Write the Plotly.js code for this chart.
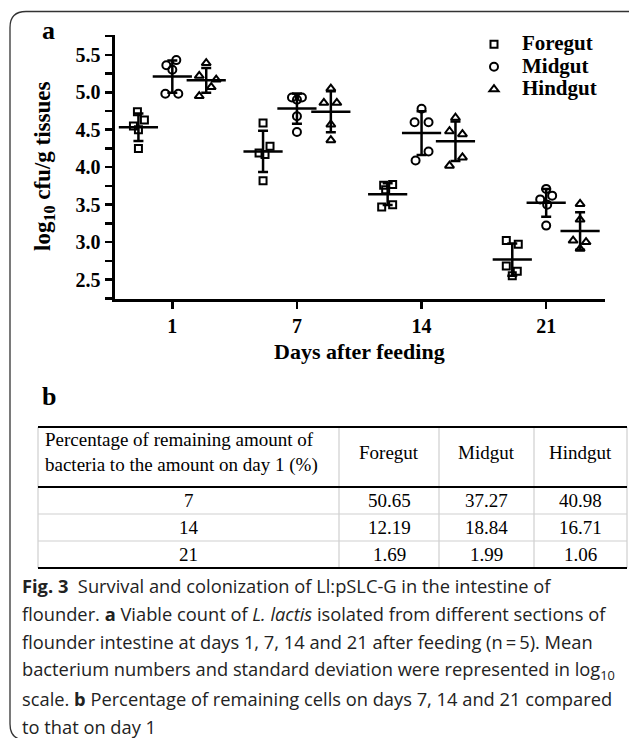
<!DOCTYPE html>
<html><head><meta charset="utf-8">
<script src="https://cdn.plot.ly/plotly-3.0.1.min.js"></script>
<style>html,body{margin:0;padding:0;background:#fff;}#chart{width:629px;height:738px;}</style>
</head><body><div id="chart"></div>
<script>
// ---------- data ----------
const days = ['1', '7', '14', '21'];
const tissues = ['Foregut', 'Midgut', 'Hindgut'];
// log10 cfu/g tissues, 5 fish per day (rows: days 1, 7, 14, 21)
const foregut = [
  [4.74, 4.63, 4.55, 4.50, 4.25],
  [4.59, 4.28, 4.19, 4.17, 3.82],
  [3.77, 3.76, 3.70, 3.50, 3.47],
  [3.02, 2.97, 2.68, 2.61, 2.55]
];
const midgut = [
  [5.43, 5.36, 5.30, 4.98, 4.98],
  [4.93, 4.93, 4.90, 4.68, 4.47],
  [4.78, 4.60, 4.60, 4.21, 4.09],
  [3.71, 3.62, 3.57, 3.50, 3.22]
];
const hindgut = [
  [5.39, 5.22, 5.17, 5.07, 4.95],
  [5.05, 4.86, 4.86, 4.57, 4.36],
  [4.66, 4.48, 4.44, 4.13, 4.02],
  [3.51, 3.30, 3.02, 3.00, 2.91]
];
// table b
const tableHeader = ['Percentage of remaining amount of<br>bacteria to the amount on day 1 (%)', 'Foregut', 'Midgut', 'Hindgut'];
const tableDays = ['7', '14', '21'];
const pctForegut = [50.65, 12.19, 1.69];
const pctMidgut = [37.27, 18.84, 1.99];
const pctHindgut = [40.98, 16.71, 1.06];

// ---------- style / layout helpers ----------
const W = 629, H = 738;
const px = v => v / W;
const py = v => 1 - v / H;
const SERIF = 'Liberation Serif, Times New Roman, serif';
const SANS = 'Open Sans, Noto Sans, sans-serif';
const groupPx = 125;
const tissueOffset = [-0.272, 0, 0.272];
const symbols = ['square-open', 'circle-open', 'triangle-up-open'];
const markerSize = [7, 8, 8];
// horizontal scatter (px) of the individual points, as in the figure
const jitter = [
  [[-1, 6, -5, 0, 0], [0, 7, -4, 2, 0], [5, -4, -2, 5, -6], [-6, 6, -6, 5, 0]],
  [[4, -6, 0, -7, 6], [-5, 5, 0, 0, 0], [0, -7, 7, 7, -6], [0, 6, -6, 1, 0]],
  [[0, -7, 10, 5, -7], [0, -7, 6, 0, 0], [0, -6, 7, 7, -6], [0, 0, -7, 6, 0]]
];

const mean = a => a.reduce((s, v) => s + v, 0) / a.length;
const sd = a => { const m = mean(a); return Math.sqrt(a.reduce((s, v) => s + (v - m) ** 2, 0) / (a.length - 1)); };

const series = [foregut, midgut, hindgut];
const traces = [];
series.forEach((ser, ti) => {
  const xs = [], ys = [];
  ser.forEach((vals, gi) => vals.forEach((v, k) => {
    xs.push(gi + tissueOffset[ti] + jitter[ti][gi][k] / groupPx);
    ys.push(v);
  }));
  traces.push({
    type: 'scatter', mode: 'markers',
    name: '<span style="font-size:21px">' + tissues[ti] + '</span>', x: xs, y: ys,
    marker: { symbol: symbols[ti], size: markerSize[ti], color: 'black', line: { width: 2, color: 'black' } },
    cliponaxis: false
  });
});
series.forEach((ser, ti) => {
  traces.push({
    type: 'scatter', mode: 'markers', showlegend: false, hoverinfo: 'skip',
    x: ser.map((_, gi) => gi + tissueOffset[ti]), y: ser.map(mean),
    error_y: { type: 'data', array: ser.map(sd), color: 'black', thickness: 2.5, width: 5 },
    marker: { symbol: 'line-ew', size: 28, color: 'black', line: { width: 2.5, color: 'black' } },
    cliponaxis: false
  });
});

// ---------- table b (drawn as text + rules) ----------
const colEdges = [38, 339, 439, 534, 627];
const tableTop = 427, headerBottom = 487, rowH = 27;
const tableBottom = headerBottom + rowH * tableDays.length;
const tableFont = { family: SERIF, size: 19, color: 'black' };
const annotations = [];
const shapes = [];
const colCenter = c => (colEdges[c] + colEdges[c + 1]) / 2;
annotations.push({ text: tableHeader[0], x: px(colEdges[0] + 5), y: py((tableTop + headerBottom) / 2 - 4), xanchor: 'left', yanchor: 'middle', align: 'left', font: tableFont });
for (let c = 1; c < tableHeader.length; c++) {
  annotations.push({ text: tableHeader[c], x: px(colCenter(c)), y: py((tableTop + headerBottom) / 2 - 4), xanchor: 'center', yanchor: 'middle', font: tableFont });
}
const tableCols = [tableDays, pctForegut.map(v => v.toFixed(2)), pctMidgut.map(v => v.toFixed(2)), pctHindgut.map(v => v.toFixed(2))];
tableCols.forEach((col, c) => col.forEach((t, r) => {
  annotations.push({ text: t, x: px(colCenter(c)), y: py(headerBottom + rowH * (r + 0.5)), xanchor: 'center', yanchor: 'middle', font: tableFont });
}));
const grey = '#cfcfcf';
colEdges.forEach(x => shapes.push({ type: 'line', xref: 'paper', yref: 'paper', x0: px(x), x1: px(x), y0: py(tableTop), y1: py(tableBottom), line: { color: grey, width: 1.2 } }));
for (let r = 1; r < tableDays.length; r++) {
  const y = headerBottom + rowH * r;
  shapes.push({ type: 'line', xref: 'paper', yref: 'paper', x0: px(colEdges[0]), x1: px(colEdges[4]), y0: py(y), y1: py(y), line: { color: grey, width: 1.2 } });
}
[tableTop, headerBottom, tableBottom].forEach(y => shapes.push({ type: 'line', xref: 'paper', yref: 'paper', x0: px(colEdges[0]), x1: px(colEdges[4]), y0: py(y), y1: py(y), line: { color: 'black', width: 2 } }));

// ---------- captions / labels ----------
const captionLines = [
  '<b>Fig. 3</b>\u00a0\u00a0Survival and colonization of Ll:pSLC-G in the intestine of',
  'flounder. <b>a</b> Viable count of <i>L. lactis</i> isolated from different sections of',
  'flounder intestine at days 1, 7, 14 and 21 after feeding (n\u2009=\u20095). Mean',
  'bacterium numbers and standard deviation were represented in log<sub>10</sub>',
  'scale. <b>b</b> Percentage of remaining cells on days 7, 14 and 21 compared',
  'to that on day 1'
];
annotations.push(
  { text: 'a', x: px(40), y: py(31), xanchor: 'left', yanchor: 'middle', font: { family: SERIF, size: 26, weight: 'bold', color: 'black' } },
  { text: 'b', x: px(40), y: py(396), xanchor: 'left', yanchor: 'middle', font: { family: SERIF, size: 26, weight: 'bold', color: 'black' } },
  { text: 'log<sub>10</sub> cfu/g tissues', x: px(44), y: py(167), textangle: -90, xanchor: 'center', yanchor: 'middle', font: { family: SERIF, size: 23, weight: 'bold', color: 'black' } },
  { text: 'Days after feeding', x: px(359), y: py(352), xanchor: 'center', yanchor: 'middle', font: { family: SERIF, size: 22, weight: 'bold', color: 'black' } }
);
captionLines.forEach((t, i) => annotations.push({
  text: t, x: px(20), y: py(585.5 + 28.2 * i), xanchor: 'left', yanchor: 'middle', align: 'left',
  font: { family: SANS, size: 18.3, color: '#222' }
}));
annotations.forEach(a => { a.xref = 'paper'; a.yref = 'paper'; a.showarrow = false; });

const frame = 'M' + px(640) + ',' + py(11.5) + ' L' + px(26) + ',' + py(11.5) +
  ' Q' + px(10) + ',' + py(11.5) + ' ' + px(10) + ',' + py(27.5) +
  ' L' + px(10) + ',' + py(724) + ' Q' + px(10) + ',' + py(740) + ' ' + px(26) + ',' + py(740);
shapes.unshift({ type: 'path', xref: 'paper', yref: 'paper', path: frame, line: { color: '#333', width: 1.3 } });

const layout = {
  width: W, height: H, margin: { l: 0, r: 0, t: 0, b: 0 },
  paper_bgcolor: 'white', plot_bgcolor: 'white',
  showlegend: true,
  legend: { x: px(466), y: py(28), xanchor: 'left', yanchor: 'top', itemwidth: 46,
    font: { family: SERIF, size: 15, weight: 'bold', color: 'black' }, bgcolor: 'rgba(0,0,0,0)', tracegroupgap: 0 },
  xaxis: {
    domain: [px(114.5), px(605)], range: [-0.464, 3.472], tickvals: [0, 1, 2, 3], ticktext: days,
    showgrid: false, zeroline: false, showline: true, linewidth: 3, linecolor: 'black',
    ticks: 'outside', ticklen: 7, tickwidth: 2.5, tickcolor: 'black',
    tickfont: { family: SERIF, size: 20, weight: 'bold', color: 'black' }, automargin: false, fixedrange: true
  },
  yaxis: {
    domain: [py(299), py(35)], range: [2.24, 5.765], tick0: 2.5, dtick: 0.5, tickformat: '.1f',
    showgrid: false, zeroline: false, showline: true, linewidth: 3, linecolor: 'black',
    ticks: 'outside', ticklen: 7, tickwidth: 2.5, tickcolor: 'black',
    minor: { dtick: 0.25, ticks: 'outside', ticklen: 7, tickwidth: 2.5, tickcolor: 'black', showgrid: false },
    tickfont: { family: SERIF, size: 20, weight: 'bold', color: 'black' }, automargin: false, fixedrange: true
  },
  annotations: annotations,
  shapes: shapes
};
Plotly.newPlot('chart', traces, layout, { displayModeBar: false, staticPlot: true });
</script></body></html>
